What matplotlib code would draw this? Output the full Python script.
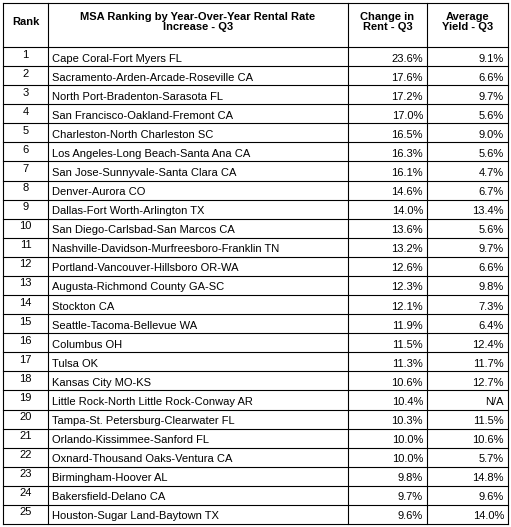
import matplotlib
matplotlib.use("Agg")
import matplotlib.pyplot as plt

plt.rcParams["font.family"] = ["Liberation Sans", "DejaVu Sans"]

ranks = list(range(1, 26))
msas = [
    "Cape Coral-Fort Myers FL", "Sacramento-Arden-Arcade-Roseville CA",
    "North Port-Bradenton-Sarasota FL", "San Francisco-Oakland-Fremont CA",
    "Charleston-North Charleston SC", "Los Angeles-Long Beach-Santa Ana CA",
    "San Jose-Sunnyvale-Santa Clara CA", "Denver-Aurora CO",
    "Dallas-Fort Worth-Arlington TX", "San Diego-Carlsbad-San Marcos CA",
    "Nashville-Davidson-Murfreesboro-Franklin TN", "Portland-Vancouver-Hillsboro OR-WA",
    "Augusta-Richmond County GA-SC", "Stockton CA", "Seattle-Tacoma-Bellevue WA",
    "Columbus OH", "Tulsa OK", "Kansas City MO-KS",
    "Little Rock-North Little Rock-Conway AR", "Tampa-St. Petersburg-Clearwater FL",
    "Orlando-Kissimmee-Sanford FL", "Oxnard-Thousand Oaks-Ventura CA",
    "Birmingham-Hoover AL", "Bakersfield-Delano CA", "Houston-Sugar Land-Baytown TX",
]
rent_change = ["23.6%", "17.6%", "17.2%", "17.0%", "16.5%", "16.3%", "16.1%", "14.6%",
               "14.0%", "13.6%", "13.2%", "12.6%", "12.3%", "12.1%", "11.9%", "11.5%",
               "11.3%", "10.6%", "10.4%", "10.3%", "10.0%", "10.0%", "9.8%", "9.7%", "9.6%"]
avg_yield = ["9.1%", "6.6%", "9.7%", "5.6%", "9.0%", "5.6%", "4.7%", "6.7%", "13.4%",
             "5.6%", "9.7%", "6.6%", "9.8%", "7.3%", "6.4%", "12.4%", "11.7%", "12.7%",
             "N/A", "11.5%", "10.6%", "5.7%", "14.8%", "9.6%", "14.0%"]
headers = ["Rank", "MSA Ranking by Year-Over-Year Rental Rate\nIncrease - Q3",
           "Change in\nRent - Q3", "Average\nYield - Q3"]

W, H = 511, 527
fig = plt.figure(figsize=(W / 100, H / 100), dpi=100)
ax = fig.add_axes([0, 0, 1, 1])
ax.set_xlim(0, W)
ax.set_ylim(H, 0)
ax.axis("off")

cols = [3, 48, 348, 427, 508]
top, head_bot, bottom = 3, 47, 524
row_h = (bottom - head_bot) / len(ranks)
lw = 0.8

for x in cols:
    ax.plot([x, x], [top, bottom], color="black", lw=lw)
ys = [top, head_bot] + [head_bot + row_h * (i + 1) for i in range(len(ranks))]
for y in ys:
    ax.plot([cols[0], cols[-1]], [y, y], color="black", lw=lw)

fs = 8
for j, h in enumerate(headers):
    ax.text((cols[j] + cols[j + 1]) / 2, (top + head_bot) / 2 - 3, h, ha="center", va="center",
            fontsize=fs, fontweight="bold", linespacing=1.1)

for i in range(len(ranks)):
    yc = head_bot + row_h * (i + 0.5)
    ax.text((cols[0] + cols[1]) / 2, yc - 2, str(ranks[i]), ha="center", va="center", fontsize=fs)
    ax.text(cols[1] + 4, yc + 2, msas[i], ha="left", va="center", fontsize=fs)
    ax.text(cols[3] - 4, yc + 2, rent_change[i], ha="right", va="center", fontsize=fs)
    ax.text(cols[4] - 4, yc + 2, avg_yield[i], ha="right", va="center", fontsize=fs)

fig.savefig("out.png", dpi=100)
